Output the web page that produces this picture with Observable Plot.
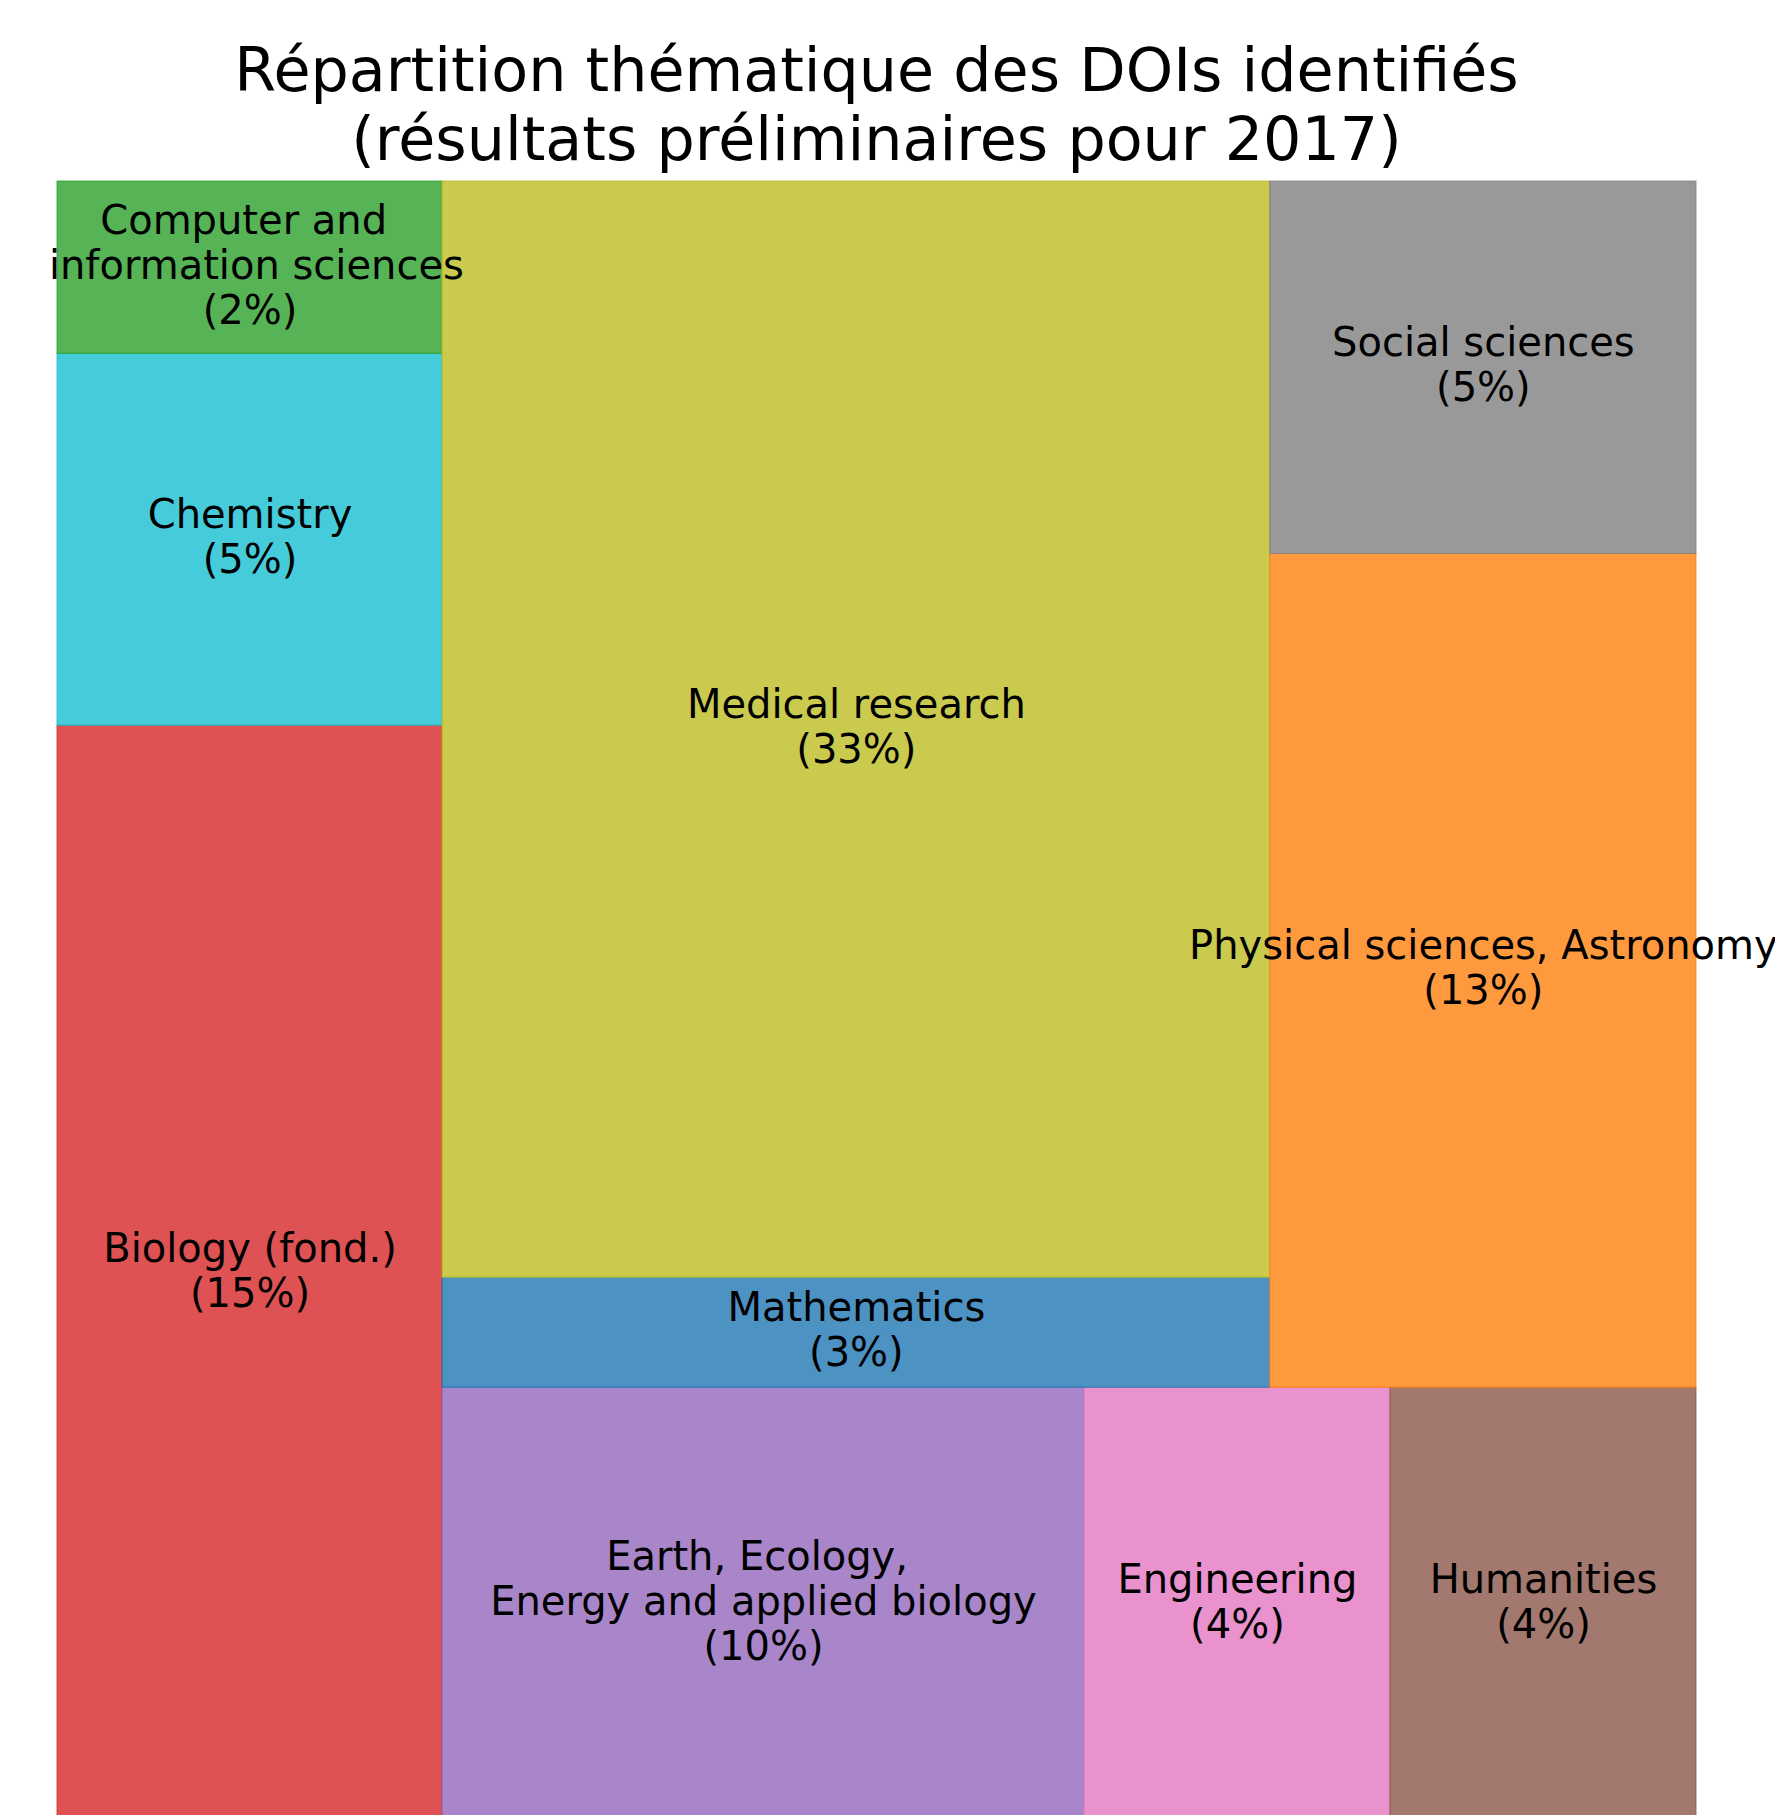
<!DOCTYPE html>
<html>
<head>
<meta charset="utf-8">
<script src="https://cdn.jsdelivr.net/npm/d3@7"></script>
<script src="https://cdn.jsdelivr.net/npm/@observablehq/plot@0.6"></script>
<style>
  html, body { margin: 0; padding: 0; background: white; overflow: hidden; }
  #title {
    box-sizing: border-box;
    height: 181px;
    padding-top: 36px;
    padding-left: 57px;
    width: 1696px;
    text-align: center;
    font-family: "DejaVu Sans", sans-serif;
    font-size: 60.3px;
    line-height: 69px;
    color: black;
  }
</style>
</head>
<body>
<div id="title">Répartition thématique des DOIs identifiés<br>(résultats préliminaires pour 2017)</div>
<div id="chart"></div>
<script>
// ---- data (order as fed to the squarify layout) ----
const categories = [
  "Biology (fond.)",
  "Chemistry",
  "Computer and information sciences",
  "Earth, Ecology, Energy and applied biology",
  "Engineering",
  "Humanities",
  "Mathematics",
  "Medical research",
  "Physical sciences, Astronomy",
  "Social sciences"
];
const labelTexts = [
  "Biology (fond.)",
  "Chemistry",
  "Computer and\u00a0\n\u00a0information sciences",
  "Earth, Ecology,\u00a0\nEnergy and applied biology",
  "Engineering",
  "Humanities",
  "Mathematics",
  "Medical research",
  "Physical sciences, Astronomy",
  "Social sciences"
];
const shares = [15.69, 5.33, 2.47, 10.34, 4.93, 4.93, 3.39, 33.78, 13.23, 5.91];
const pctLabels = ["15%", "5%", "2%", "10%", "4%", "4%", "3%", "33%", "13%", "5%"];
const colors = ["#d62728", "#17becf", "#2ca02c", "#9467bd", "#e377c2", "#8c564b", "#1f77b4", "#bcbd22", "#ff7f0e", "#7f7f7f"];

// ---- squarify layout (port of the python squarify algorithm) ----
function normalizeSizes(sizes, dx, dy) {
  const total = d3.sum(sizes);
  return sizes.map(s => s * dx * dy / total);
}
function layoutRow(sizes, x, y, dx, dy) {
  const w = d3.sum(sizes) / dy;
  const out = [];
  for (const s of sizes) { out.push({x, y, dx: w, dy: s / w}); y += s / w; }
  return out;
}
function layoutCol(sizes, x, y, dx, dy) {
  const h = d3.sum(sizes) / dx;
  const out = [];
  for (const s of sizes) { out.push({x, y, dx: s / h, dy: h}); x += s / h; }
  return out;
}
function layout(sizes, x, y, dx, dy) {
  return dx >= dy ? layoutRow(sizes, x, y, dx, dy) : layoutCol(sizes, x, y, dx, dy);
}
function leftover(sizes, x, y, dx, dy) {
  const a = d3.sum(sizes);
  if (dx >= dy) { const w = a / dy; return [x + w, y, dx - w, dy]; }
  const h = a / dx; return [x, y + h, dx, dy - h];
}
function worstRatio(sizes, x, y, dx, dy) {
  return d3.max(layout(sizes, x, y, dx, dy), r => Math.max(r.dx / r.dy, r.dy / r.dx));
}
function squarify(sizes, x, y, dx, dy) {
  if (sizes.length === 0) return [];
  if (sizes.length === 1) return layout(sizes, x, y, dx, dy);
  let i = 1;
  while (i < sizes.length &&
         worstRatio(sizes.slice(0, i), x, y, dx, dy) >= worstRatio(sizes.slice(0, i + 1), x, y, dx, dy)) i++;
  const cur = sizes.slice(0, i), rem = sizes.slice(i);
  const [lx, ly, ldx, ldy] = leftover(cur, x, y, dx, dy);
  return layout(cur, x, y, dx, dy).concat(squarify(rem, lx, ly, ldx, ldy));
}

const rects = squarify(normalizeSizes(shares, 100, 100), 0, 0, 100, 100);
const rows = categories.map((c, i) => ({
  cat: c,
  label: labelTexts[i] + "\n(" + pctLabels[i] + ")",
  x1: rects[i].x,
  x2: rects[i].x + rects[i].dx,
  y1: rects[i].y,
  y2: rects[i].y + rects[i].dy
}));

const chart = Plot.plot({
  width: 1775,
  height: 1639,
  marginLeft: 57,
  marginRight: 79,
  marginTop: 0,
  marginBottom: 0,
  x: {domain: [0, 100], axis: null},
  y: {domain: [0, 100], axis: null},
  color: {type: "ordinal", domain: categories, range: colors},
  style: {fontFamily: "DejaVu Sans", background: "white", overflow: "visible"},
  marks: [
    Plot.rect(rows, {
      x1: "x1", x2: "x2", y1: "y1", y2: "y2",
      inset: 0,
      fill: "cat", fillOpacity: 0.8,
      stroke: "cat", strokeOpacity: 0.8, strokeWidth: 1
    }),
    Plot.text(rows, {
      x: d => (d.x1 + d.x2) / 2,
      y: d => (d.y1 + d.y2) / 2,
      text: "label",
      fontSize: 40,
      lineHeight: 1.125,
      dy: -3.5,
      fill: "black",
      textAnchor: "middle"
    })
  ]
});
document.getElementById("chart").appendChild(chart);
</script>
</body>
</html>
